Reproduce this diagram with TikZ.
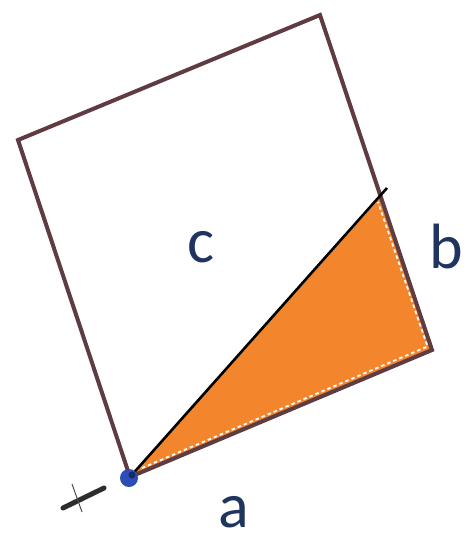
\documentclass[tikz,border=0pt]{standalone}
\usepackage{fontspec}
\setmainfont{Carlito}
\usetikzlibrary{calc}
\definecolor{edge}{HTML}{5E3C42}
\definecolor{fillor}{HTML}{F3862C}
\definecolor{lab}{HTML}{1F3560}
\definecolor{dot}{HTML}{2B4DB5}
\begin{document}
\begin{tikzpicture}[x=1pt,y=-1pt,
  lbl/.style={text=lab,font=\fontsize{64}{64}\selectfont,inner sep=0pt},
  sq/.style={draw=edge,line width=4pt,line join=miter},
  wd/.style={draw=white,line width=1.8pt,dash pattern=on 3.5pt off 3pt}]
\useasboundingbox (0,0) rectangle (467,543);
\coordinate (BL) at (130,477);
\coordinate (R) at (432,350);
\coordinate (TR) at (320,15);
\coordinate (TL) at (18,140);
\coordinate (T) at (381,197);
\coordinate (Tx) at (387,188);
\fill[fillor] (BL) -- (T) -- (R) -- cycle;
\draw[sq] (BL) -- (R) -- (TR) -- (TL) -- cycle;
\draw[wd] ($(BL)+(12,-9)$) -- ($(R)+(-4.5,-3.5)$) -- ($(T)+(-3,5)$);
\draw[black,line width=2.6pt] (BL) -- (Tx);
\fill[dot] ($(BL)+(-1,1)$) circle (9);
\fill[dot!55!black] ($(BL)+(2,-2)$) circle (3.5);
\coordinate (m1) at (63,508);
\coordinate (m2) at (104,488);
\draw[gray!35!black,line width=5pt,line cap=round] (m1) -- (m2);
\draw[gray!60!black,line width=1pt] (72,484) -- (82,512);
\node[lbl] (c) at (201,247) {c};
\node[lbl] (b) at (446,246) {b};
\node[lbl] (a) at (234,512) {a};
\end{tikzpicture}
\end{document}
